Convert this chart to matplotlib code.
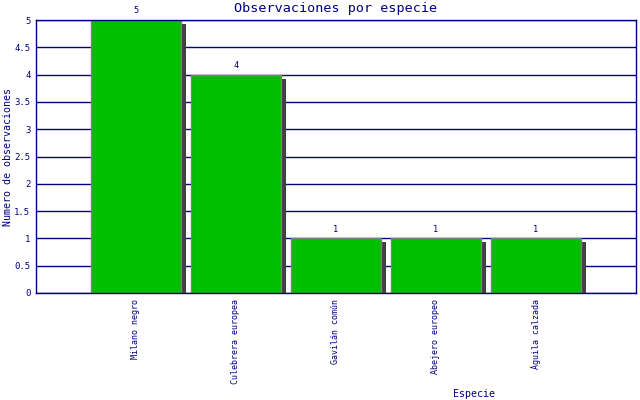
import matplotlib
matplotlib.use('Agg')
import matplotlib.pyplot as plt
from matplotlib.transforms import ScaledTranslation

species = ['Milano negro', 'Culebrera europea', 'Gavilán común', 'Abejero europeo', 'Águila calzada']
counts = [5, 4, 1, 1, 1]
y_ticks = [0, 0.5, 1, 1.5, 2, 2.5, 3, 3.5, 4, 4.5, 5]

NAVY = '#000080'
plt.rcParams['font.family'] = ['DejaVu Sans Mono']

fig = plt.figure(figsize=(6.4, 4), dpi=100)
ax = fig.add_axes([36 / 640, 107 / 400, 600 / 640, 273 / 400])

x = list(range(len(species)))

# grid behind the bars
ax.set_axisbelow(True)
ax.yaxis.grid(True, color=NAVY, linewidth=1)

# drop shadow: same bars shifted a few px right and down
shadow = ax.transData + ScaledTranslation(4.5 / 100, -4 / 100, fig.dpi_scale_trans)
ax.bar(x, counts, width=0.9, color='#404040', transform=shadow, zorder=2)
ax.bar(x, counts, width=0.9, color='#00bf00', edgecolor='#808080', linewidth=1, zorder=3)

for xi, c in zip(x, counts):
    ax.annotate(str(c), (xi, c), xytext=(0, 3.5), textcoords='offset points',
                ha='center', va='bottom', fontsize=6.3, color=NAVY)

ax.set_xlim(-1, 5)
ax.set_ylim(0, 5)
ax.set_yticks(y_ticks)
ax.set_yticklabels([f'{t:g}' for t in y_ticks])
ax.set_xticks(x)
ax.set_xticklabels(species, rotation=90, va='top', ha='center')
ax.tick_params(axis='y', length=0, pad=4, labelsize=6.5, labelcolor=NAVY)
ax.tick_params(axis='x', length=0, pad=4, labelsize=6, labelcolor=NAVY)

for spine in ax.spines.values():
    spine.set_color(NAVY)
    spine.set_linewidth(1)
    spine.set_zorder(4)

ax.set_title('Observaciones por especie', fontsize=9.7, color=NAVY, pad=6)
ax.set_ylabel('Numero de observaciones', fontsize=7.2, color=NAVY, va='center')
ax.yaxis.set_label_coords(-0.047, 0.5)
ax.set_xlabel('Especie', fontsize=7.2, color=NAVY, va='center')
ax.xaxis.set_label_coords(0.73, -0.37)

fig.savefig('out.png', dpi=100)
